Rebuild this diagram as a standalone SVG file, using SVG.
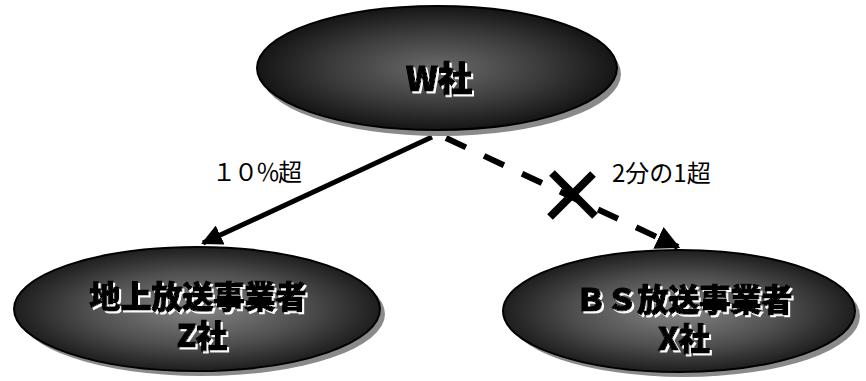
<svg xmlns="http://www.w3.org/2000/svg" width="866" height="381" viewBox="0 0 866 381">
<defs>
<radialGradient id="g" cx="50%" cy="50%" r="50%">
<stop offset="0" stop-color="#858585"/>
<stop offset="0.6" stop-color="#4e4e4e"/>
<stop offset="1" stop-color="#1e1e1e"/>
</radialGradient>
<radialGradient id="gw" cx="50%" cy="50%" r="50%">
<stop offset="0" stop-color="#6a6a6a"/>
<stop offset="0.6" stop-color="#3a3a3a"/>
<stop offset="1" stop-color="#151515"/>
</radialGradient>
<filter id="emb" x="-10%" y="-20%" width="120%" height="140%">
<feDropShadow dx="2" dy="2" stdDeviation="0" flood-color="#fff" flood-opacity="1"/>
</filter>
<marker id="ah" viewBox="0 0 10 10" refX="9" refY="5" markerWidth="4.2" markerHeight="4.2" orient="auto" markerUnits="strokeWidth">
<path d="M0,0 L10,5 L0,10 Z" fill="#000"/>
</marker>
<marker id="ah2" viewBox="0 0 10 10" refX="9" refY="5" markerWidth="4" markerHeight="4" orient="auto" markerUnits="strokeWidth">
<path d="M0,0 L10,5 L0,10 Z" fill="#000"/>
</marker>
</defs>
<style>
.shadow{fill:#8a8a8a;}
.ell{stroke:#000;stroke-width:2;}
.t{font-family:"Noto Sans CJK JP","Liberation Sans",sans-serif;font-weight:900;text-anchor:middle;fill:#000;stroke:#000;stroke-width:1.2;filter:url(#emb);}
.lbl{font-family:"Noto Sans CJK JP","Liberation Sans",sans-serif;font-size:24px;fill:#000;}
</style>
<rect width="866" height="381" fill="#fff"/>
<g id="connectors">
<line x1="432" y1="137" x2="203" y2="243" stroke="#000" stroke-width="5" marker-end="url(#ah)"/>
<line x1="446" y1="138" x2="678" y2="247" stroke="#000" stroke-width="6" stroke-dasharray="22,20" marker-end="url(#ah2)"/>
<line x1="552" y1="173" x2="595" y2="216" stroke="#000" stroke-width="8"/>
<line x1="593" y1="174" x2="550" y2="217" stroke="#000" stroke-width="8"/>
<text class="lbl" x="212" y="181" letter-spacing="-2">１０％超</text>
<text class="lbl" x="612" y="182">2分の1超</text>
</g>
<g id="node-w">
<ellipse class="shadow" cx="441" cy="74" rx="180" ry="62"/>
<ellipse class="ell" cx="437" cy="68" rx="180" ry="62" fill="url(#gw)"/>
<text class="t" x="439" y="91" font-size="34">W社</text>
</g>
<g id="node-z">
<ellipse class="shadow" cx="202" cy="314" rx="183" ry="62"/>
<ellipse class="ell" cx="197" cy="309" rx="183" ry="62" fill="url(#g)"/>
<text class="t" font-size="31"><tspan x="198" y="308">地上放送事業者</tspan><tspan x="202" y="347">Z社</tspan></text>
</g>
<g id="node-x">
<ellipse class="shadow" cx="684" cy="316" rx="176" ry="61"/>
<ellipse class="ell" cx="679" cy="311" rx="176" ry="61" fill="url(#g)"/>
<text class="t" font-size="31"><tspan x="684" y="311">ＢＳ放送事業者</tspan><tspan x="684" y="350">X社</tspan></text>
</g>
</svg>
